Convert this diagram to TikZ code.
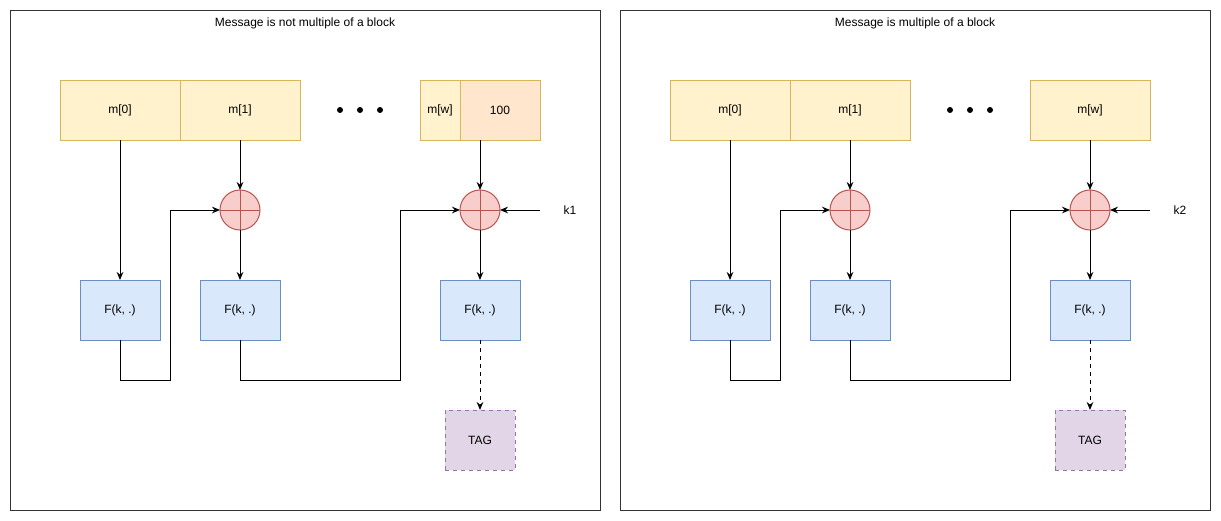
\documentclass[tikz,border=0pt]{standalone}
\usepackage{fontspec}
\setmainfont{Liberation Sans}
\usetikzlibrary{arrows.meta}
\definecolor{yfill}{HTML}{FFF2CC}
\definecolor{yline}{HTML}{D6B656}
\definecolor{ofill}{HTML}{FFE6CC}
\definecolor{bfill}{HTML}{DAE8FC}
\definecolor{bline}{HTML}{6C8EBF}
\definecolor{rfill}{HTML}{F8CECC}
\definecolor{rline}{HTML}{B85450}
\definecolor{pfill}{HTML}{E1D5E7}
\definecolor{pline}{HTML}{9673A6}
\begin{document}
\begin{tikzpicture}[x=0.75pt,y=-0.75pt,line width=0.75pt,
  font=\fontsize{9}{11}\selectfont,
  every node/.style={inner sep=0pt,outer sep=0pt},
  mblk/.style={draw=yline,fill=yfill,minimum width=90pt,minimum height=45pt},
  fblk/.style={draw=bline,fill=bfill,minimum width=60pt,minimum height=45pt},
  tagblk/.style={draw=pline,fill=pfill,dashed,minimum width=52.5pt,minimum height=45pt},
  xorc/.style={circle,draw=rline,fill=rfill,minimum size=30pt},
  frame/.style={draw=black!80,line width=0.75pt},
  arr/.style={-{Stealth[length=6pt,width=5pt,inset=2pt]}},
  dot/.style={circle,fill=black,minimum size=4.5pt}]
\useasboundingbox (0,0) rectangle (1221,521);
% ===== Left panel =====
\draw[frame] (10,10) rectangle (600,510);
\node (Ltitle) at (305,23) {Message is not multiple of a block};
\node[mblk] (Lm0) at (120,110) {m[0]};
\node[mblk] (Lm1) at (240,110) {m[1]};
\node[dot] (Ld1) at (340,110) {};
\node[dot] (Ld2) at (360,110) {};
\node[dot] (Ld3) at (380,110) {};
\node[draw=yline,fill=yfill,minimum width=30pt,minimum height=45pt] (Lmw) at (440,110) {m[w]};
\node[draw=yline,fill=ofill,minimum width=60pt,minimum height=45pt] (Lpad) at (500,110) {100};
\node[xorc] (Lx1) at (240,210) {};
\node[xorc] (Lx2) at (480,210) {};
\foreach \c in {Lx1,Lx2}{
  \draw[rline] (\c.north) -- (\c.south) (\c.west) -- (\c.east);}
\node (Lk) at (570,210) {k1};
\coordinate (Lks) at (540,210);
\node[fblk] (Lf1) at (120,310) {F(k, .)};
\node[fblk] (Lf2) at (240,310) {F(k, .)};
\node[fblk] (Lf3) at (480,310) {F(k, .)};
\node[tagblk] (Ltag) at (480,440) {TAG};
\coordinate (La) at (170,380);
\coordinate (Lb) at (400,380);
\draw[arr] (Lm0.south) -- (Lf1.north);
\draw[arr] (Lm1.south -| Lx1) -- (Lx1.north);
\draw[arr] (Lx1.south) -- (Lf2.north);
\draw[arr] (Lpad.south -| Lx2) -- (Lx2.north);
\draw[arr] (Lx2.south) -- (Lf3.north);
\draw[arr] (Lks) -- (Lx2.east);
\draw[arr] (Lf1.south) |- (La) |- (Lx1.west);
\draw[arr] (Lf2.south) |- (Lb) |- (Lx2.west);
\draw[arr,dashed] (Lf3.south) -- (Ltag.north);
% ===== Right panel =====
\draw[frame] (620,10) rectangle (1210,510);
\node (Rtitle) at (915,23) {Message is multiple of a block};
\node[mblk] (Rm0) at (730,110) {m[0]};
\node[mblk] (Rm1) at (850,110) {m[1]};
\node[dot] (Rd1) at (950,110) {};
\node[dot] (Rd2) at (970,110) {};
\node[dot] (Rd3) at (990,110) {};
\node[mblk] (Rmw) at (1090,110) {m[w]};
\node[xorc] (Rx1) at (850,210) {};
\node[xorc] (Rx2) at (1090,210) {};
\foreach \c in {Rx1,Rx2}{
  \draw[rline] (\c.north) -- (\c.south) (\c.west) -- (\c.east);}
\node (Rk) at (1180,210) {k2};
\coordinate (Rks) at (1150,210);
\node[fblk] (Rf1) at (730,310) {F(k, .)};
\node[fblk] (Rf2) at (850,310) {F(k, .)};
\node[fblk] (Rf3) at (1090,310) {F(k, .)};
\node[tagblk] (Rtag) at (1090,440) {TAG};
\coordinate (Ra) at (780,380);
\coordinate (Rb) at (1010,380);
\draw[arr] (Rm0.south) -- (Rf1.north);
\draw[arr] (Rm1.south) -- (Rx1.north);
\draw[arr] (Rx1.south) -- (Rf2.north);
\draw[arr] (Rmw.south) -- (Rx2.north);
\draw[arr] (Rx2.south) -- (Rf3.north);
\draw[arr] (Rks) -- (Rx2.east);
\draw[arr] (Rf1.south) |- (Ra) |- (Rx1.west);
\draw[arr] (Rf2.south) |- (Rb) |- (Rx2.west);
\draw[arr,dashed] (Rf3.south) -- (Rtag.north);
\end{tikzpicture}
\end{document}
